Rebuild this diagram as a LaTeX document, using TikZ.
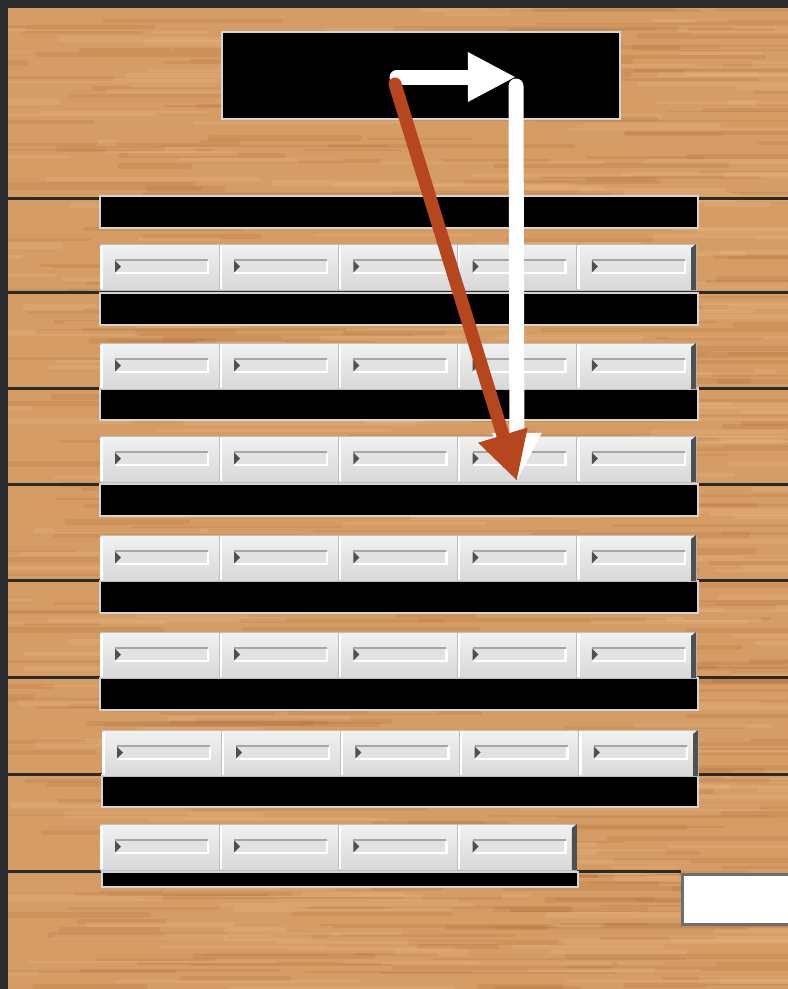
\documentclass[tikz,border=0pt]{standalone}
\usetikzlibrary{arrows.meta}
\definecolor{Frame}{HTML}{2C2C2E}
\definecolor{Wood}{HTML}{D69C66}
\definecolor{GrainDark}{HTML}{A05E28}
\definecolor{GrainLight}{HTML}{EEBE8C}
\definecolor{Shelf}{HTML}{2A2A2A}
\definecolor{Rim}{HTML}{D4D4D4}
\definecolor{BtnTop}{HTML}{F1F1F1}
\definecolor{BtnBot}{HTML}{D8D8D8}
\definecolor{Groove}{HTML}{E2E2E2}
\definecolor{Knob}{HTML}{505050}
\definecolor{Rust}{HTML}{B5461E}
\definecolor{Tag}{HTML}{6E6E6E}

\begin{document}
\begin{tikzpicture}[x=0.025cm,y=-0.025cm,bar/.style={draw=Rim, fill=black, line width=0.065cm, inner sep=0pt, outer sep=0pt, anchor=north west},btn/.style={top color=BtnTop, bottom color=BtnBot, draw=gray!50, line width=0.02cm, inner sep=0pt, outer sep=0pt, anchor=north west, minimum width=2.98cm, minimum height=1.15cm},shelf/.style={draw=Shelf, line width=0.075cm},pathwhite/.style={draw=white, line width=0.375cm, line cap=round, -{Triangle[length=1.2cm,width=1.15cm]}},pathrust/.style={draw=Rust, line width=0.325cm, line cap=round, -{Triangle[length=1.2cm,width=1.2cm]}}]
\useasboundingbox (0,0) rectangle (788,989);
% wood backdrop
\begin{scope}
\clip (8,8) rectangle (788,989);
\fill[Wood] (8,8) rectangle (788,989);
\pgfmathsetseed{17}
\foreach \i in {1,...,420} {\pgfmathsetmacro\gx{820*rnd-60}\pgfmathsetmacro\gy{8+981*rnd}\pgfmathsetmacro\gl{60+220*rnd}\pgfmathsetmacro\gw{1.2+3*rnd}\draw[GrainDark, opacity=0.16, line width=\gw pt, line cap=round] (\gx,\gy) -- ++(\gl,0);}
\foreach \i in {1,...,300} {\pgfmathsetmacro\gx{820*rnd-60}\pgfmathsetmacro\gy{8+981*rnd}\pgfmathsetmacro\gl{60+200*rnd}\pgfmathsetmacro\gw{1.5+3*rnd}\draw[GrainLight, opacity=0.22, line width=\gw pt, line cap=round] (\gx,\gy) -- ++(\gl,0);}
\end{scope}
\fill[Frame] (0,0) rectangle (8,989); \fill[Frame] (0,0) rectangle (788,8);
% shelves
\foreach \y in {198,292,388,484,580,677,774} {\draw[shelf] (8,\y) -- (788,\y);}
\draw[shelf] (8,871) -- (681,871);
% header box and bars
\node[bar, minimum width=9.95cm, minimum height=2.175cm] (header) at (222,32) {};
\foreach \y/\n in {196/1,293/2,388/3,484/4,581/5,678/6} {\node[bar, minimum width=14.95cm, minimum height=0.8cm] (bar\n) at (100,\y) {};}
\node[bar, minimum width=14.9cm, minimum height=0.8cm] (bar7) at (102,775) {};
\node[bar, minimum width=11.9cm, minimum height=0.375cm] (bar8) at (102,872) {};
% drawer fronts
\foreach \xo/\y/\n [count=\r] in {100/244/4,100/343/4,100/436/4,100/535/4,100/632/4,102/730/4,100/824/3} {
\foreach \c in {0,...,\n} {\pgfmathsetmacro\x{\xo+119.2*\c}
\node[btn] (d\r\c) at (\x,\y) {};
\draw[white, line width=0.06cm] (\x+1.5,\y+2) -- (\x+1.5,\y+45);
\fill[Groove] (\x+15,\y+16) rectangle (\x+108,\y+29);
\draw[gray!70, line width=0.04cm] (\x+15,\y+16) -- (\x+108,\y+16);
\draw[white, line width=0.06cm] (\x+15,\y+29) -- (\x+108,\y+29) -- (\x+108,\y+17);
\fill[Knob] (\x+15,\y+16.5) -- (\x+21,\y+22.5) -- (\x+15,\y+28.5) -- cycle;}
\pgfmathsetmacro\xe{\xo+119.2*(\n+1)}
\fill[Knob] (\xe-5,\y+4) -- (\xe,\y) -- (\xe,\y+46) -- (\xe-5,\y+46) -- cycle;}
\node[draw=Tag, fill=white, line width=0.075cm, inner sep=0pt, anchor=north west, minimum width=3cm, minimum height=1.25cm] (tag) at (681,873) {};
% moves
\coordinate (wstart) at (397,77);
\coordinate (wturn) at (516,77);
\coordinate (wdown) at (516,86);
\coordinate (target) at (517,481);
\coordinate (rstart) at (395,84);
\draw[pathwhite] (wstart) -- (wturn);
\draw[pathwhite] (wdown) -- (target);
\draw[pathrust] (rstart) -- (target);
\end{tikzpicture}
\end{document}
